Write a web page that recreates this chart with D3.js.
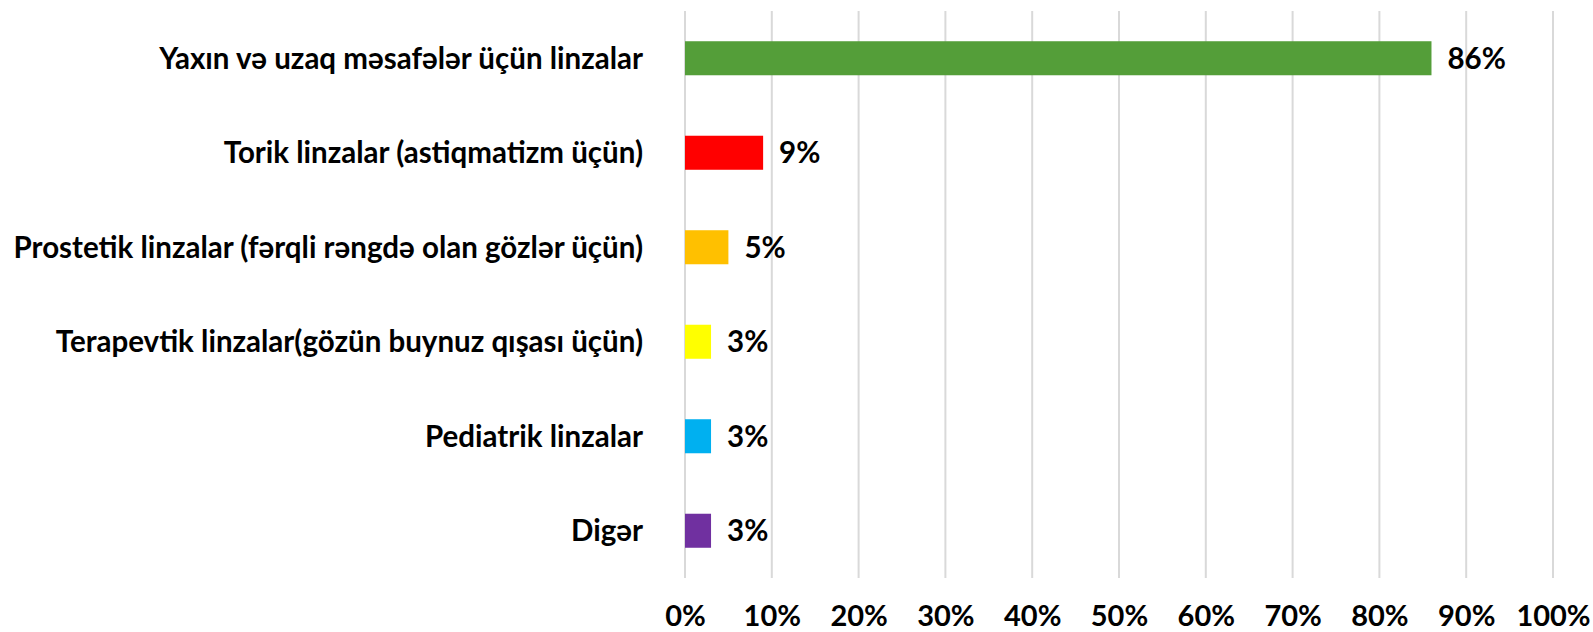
<!DOCTYPE html>
<html>
<head>
<meta charset="utf-8">
<script src="https://cdn.jsdelivr.net/npm/d3@7"></script>
<style>
  body { margin: 0; background: #fff; }
  svg text { font-family: Lato, "Open Sans", sans-serif; font-weight: bold; fill: #000; }
</style>
</head>
<body>
<div id="app"></div>
<script>
const categories = [
  'Yaxın və uzaq məsafələr üçün linzalar',
  'Torik linzalar (astiqmatizm üçün)',
  'Prostetik linzalar (fərqli rəngdə olan gözlər üçün)',
  'Terapevtik linzalar(gözün buynuz qışası üçün)',
  'Pediatrik linzalar',
  'Digər'
];
const values = [86, 9, 5, 3, 3, 3];
const colors = ['#549E39', '#FF0000', '#FFC000', '#FFFF00', '#00B0F0', '#7030A0'];
const ticks = [0, 10, 20, 30, 40, 50, 60, 70, 80, 90, 100];

const width = 1593, height = 632;
const fontSize = 29.5;

const svg = d3.select('#app')
  .append('svg')
  .attr('width', width)
  .attr('height', height);

const x = d3.scaleLinear().domain([0, 100]).range([685, 1553]);
const y = d3.scaleBand().domain(categories).range([11, 578]).paddingInner(0.64).paddingOuter(0.32);

// gridlines
svg.append('g')
  .selectAll('line')
  .data(ticks)
  .join('line')
  .attr('x1', d => x(d)).attr('x2', d => x(d))
  .attr('y1', 11).attr('y2', 578)
  .attr('stroke', '#d9d9d9')
  .attr('stroke-width', 2);

// x axis labels
const xAxis = d3.axisBottom(x).tickValues(ticks).tickFormat(d => d + '%').tickSize(0).tickPadding(0);
const gx = svg.append('g').attr('transform', 'translate(0,626)').call(xAxis);
gx.select('.domain').remove();
gx.selectAll('text').attr('font-size', 29).attr('dy', 0).attr('font-family', null);

// category labels
const yAxis = d3.axisLeft(y).tickSize(0).tickPadding(0);
const gy = svg.append('g').attr('transform', 'translate(643,0)').call(yAxis);
gy.select('.domain').remove();
gy.selectAll('text').attr('font-size', fontSize).attr('dy', '0.36em').attr('font-family', null);

// bars
svg.append('g')
  .selectAll('rect')
  .data(values)
  .join('rect')
  .attr('x', x(0))
  .attr('y', (d, i) => y(categories[i]))
  .attr('width', d => x(d) - x(0))
  .attr('height', y.bandwidth())
  .attr('fill', (d, i) => colors[i]);

// value labels
svg.append('g')
  .selectAll('text')
  .data(values)
  .join('text')
  .attr('x', d => x(d) + 16)
  .attr('y', (d, i) => y(categories[i]) + y.bandwidth() / 2)
  .attr('dy', '0.36em')
  .attr('font-size', fontSize)
  .text(d => d + '%');
</script>
</body>
</html>
